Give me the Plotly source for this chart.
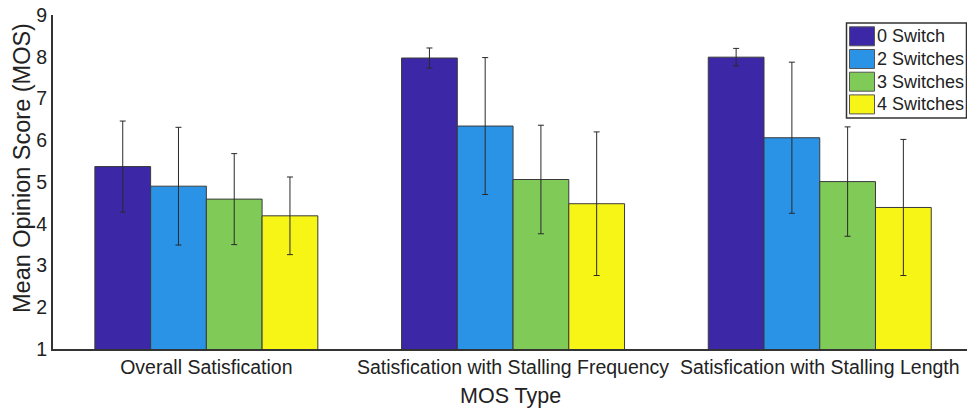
import plotly.graph_objects as go

# Mean opinion scores per MOS type and number of switches
categories = ["Overall Satisfication",
              "Satisfication with Stalling Frequency",
              "Satisfication with Stalling Length"]
series_names = ["0 Switch", "2 Switches", "3 Switches", "4 Switches"]

mos_0_switch = [5.37, 7.97, 7.99]
mos_2_switches = [4.90, 6.34, 6.06]
mos_3_switches = [4.59, 5.06, 5.01]
mos_4_switches = [4.19, 4.48, 4.39]

# Error bar half-lengths (standard deviation)
err_0_switch = [1.09, 0.24, 0.21]
err_2_switches = [1.41, 1.64, 1.81]
err_3_switches = [1.09, 1.30, 1.31]
err_4_switches = [0.93, 1.72, 1.63]

y_ticks = [1, 2, 3, 4, 5, 6, 7, 8, 9]

series_values = [mos_0_switch, mos_2_switches, mos_3_switches, mos_4_switches]
series_errors = [err_0_switch, err_2_switches, err_3_switches, err_4_switches]
colors = ["#3C27A6", "#2A93E6", "#80CA58", "#F7F516"]

W, H = 967, 413
ML, MR, MT, MB = 53, 0, 15, 64
PW, PH = W - ML - MR, H - MT - MB

TEXT = "#222222"
FONT = "Liberation Sans, Arial, sans-serif"

x_pos = [i + 1 for i in range(len(categories))]

fig = go.Figure()
for name, vals, errs, col in zip(series_names, series_values, series_errors, colors):
    fig.add_trace(go.Bar(
        x=x_pos, y=vals, name=name,
        marker=dict(color=col, line=dict(color="#3a3a3a", width=1)),
        error_y=dict(type="data", array=errs, visible=True,
                     color="#2a2a2a", thickness=1, width=3),
        showlegend=False,
    ))


def px_x(p):
    return (p - ML) / PW


def px_y(p):
    return (H - MB - p) / PH


# Legend box drawn as layout shapes / annotations
shapes = [dict(type="rect", xref="paper", yref="paper",
               x0=px_x(846.5), x1=px_x(966.5), y0=px_y(118), y1=px_y(23),
               line=dict(color="#333333", width=1.5), fillcolor="white", layer="above")]
annotations = []
row0, step = 36.3, 22.7
for i, (name, col) in enumerate(zip(series_names, colors)):
    cy = row0 + i * step
    shapes.append(dict(type="rect", xref="paper", yref="paper",
                       x0=px_x(849.5), x1=px_x(874.5),
                       y0=px_y(cy + 9.5), y1=px_y(cy - 9.5),
                       line=dict(color="#555555", width=1), fillcolor=col, layer="above"))
    annotations.append(dict(xref="paper", yref="paper", x=px_x(875), y=px_y(cy),
                            text=name, showarrow=False, xanchor="left", yanchor="middle",
                            font=dict(family=FONT, size=18, color=TEXT)))

# Axis titles
annotations.append(dict(xref="paper", yref="paper", x=0.5, y=px_y(396),
                        text="MOS Type", showarrow=False, xanchor="center", yanchor="middle",
                        font=dict(family=FONT, size=21.5, color=TEXT)))
annotations.append(dict(xref="paper", yref="paper", x=px_x(22), y=px_y(168),
                        text="Mean Opinion Score (MOS)", showarrow=False, textangle=-90,
                        xanchor="center", yanchor="middle",
                        font=dict(family=FONT, size=23.5, color=TEXT)))

fig.update_layout(
    width=W, height=H,
    margin=dict(l=ML, r=MR, t=MT, b=MB, pad=0),
    paper_bgcolor="white", plot_bgcolor="white",
    barmode="group", bargap=0.273, bargroupgap=0,
    font=dict(family=FONT, size=19.5, color=TEXT),
    shapes=shapes, annotations=annotations,
    xaxis=dict(range=[0.5, 0.5 + PW / 306.7], tickvals=x_pos, ticktext=categories,
               showline=True, linecolor="#333333", linewidth=2, showgrid=False,
               zeroline=False, ticks="", tickfont=dict(size=19.5, color=TEXT)),
    yaxis=dict(range=[1, 9], tickvals=y_ticks, showline=True, linecolor="#333333",
               linewidth=2, showgrid=False, zeroline=False, ticks="",
               tickfont=dict(size=19.5, color=TEXT)),
)

fig.write_html("out.html")
